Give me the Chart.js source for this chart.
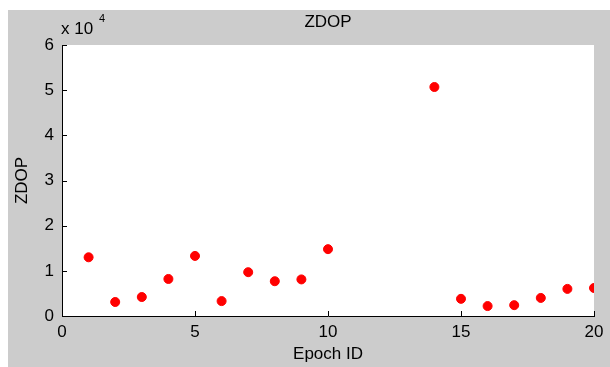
<!DOCTYPE html>
<html>
<head>
<meta charset="utf-8">
<script src="https://cdn.jsdelivr.net/npm/chart.js@4.4.0/dist/chart.umd.min.js"></script>
<style>
  body { margin: 0; background: #fff; }
  #wrap { position: absolute; left: 8px; top: 10px; width: 602px; height: 357px; background: #cccccc; }
</style>
</head>
<body>
<div id="wrap"><canvas id="zdopChart" width="602" height="357"></canvas></div>
<script>
// epoch ids and ZDOP values (epochs 11-13 have no point)
const epochs = [1, 2, 3, 4, 5, 6, 7, 8, 9, 10, 14, 15, 16, 17, 18, 19, 20];
const zdop = [13000, 3100, 4200, 8200, 13300, 3300, 9700, 7700, 8100, 14800, 50700, 3800, 2200, 2400, 4000, 6000, 6200];
const xTicks = [0, 5, 10, 15, 20];
const yTicks = [0, 10000, 20000, 30000, 40000, 50000, 60000];

const FONT = "'Liberation Sans', Arial, sans-serif";

// white plot box, inward tick marks, title and the "x 10^4" label
const matlabAxes = {
  id: "matlabAxes",
  beforeDraw(chart) {
    const { ctx, chartArea } = chart;
    ctx.save();
    ctx.fillStyle = "#ffffff";
    ctx.fillRect(chartArea.left, chartArea.top, chartArea.right - chartArea.left, chartArea.bottom - chartArea.top);
    ctx.restore();
  },
  afterDraw(chart) {
    const { ctx, chartArea, scales } = chart;
    ctx.save();
    ctx.strokeStyle = "#000";
    ctx.lineWidth = 1;
    ctx.beginPath();
    xTicks.forEach((t) => {
      const px = Math.round(scales.x.getPixelForValue(t)) + 0.5;
      ctx.moveTo(px, chartArea.bottom);
      ctx.lineTo(px, chartArea.bottom - 5);
    });
    yTicks.forEach((t) => {
      const py = Math.round(scales.y.getPixelForValue(t)) + 0.5;
      ctx.moveTo(chartArea.left, py);
      ctx.lineTo(chartArea.left + 5, py);
    });
    ctx.stroke();

    ctx.fillStyle = "#000";
    ctx.font = "17px " + FONT;
    ctx.textAlign = "center";
    ctx.textBaseline = "middle";
    ctx.fillText("ZDOP", (chartArea.left + chartArea.right) / 2, 12);

    ctx.textAlign = "left";
    ctx.fillText("x 10", chartArea.left - 1, 19);
    ctx.font = "11px " + FONT;
    ctx.fillText("4", chartArea.left + 37, 9);
    ctx.restore();
  },
};

new Chart(document.getElementById("zdopChart"), {
  type: "scatter",
  data: {
    datasets: [
      {
        label: "ZDOP",
        data: epochs.map((e, i) => ({ x: e, y: zdop[i] })),
        backgroundColor: "#ff0000",
        borderColor: "#ff0000",
        pointRadius: 4.5,
        pointHoverRadius: 4.5,
      },
    ],
  },
  options: {
    responsive: false,
    animation: false,
    layout: { padding: { top: 35, right: 16, left: 0, bottom: 0 } },
    plugins: {
      legend: { display: false },
      tooltip: { enabled: false },
    },
    scales: {
      x: {
        type: "linear",
        min: 0,
        max: 20,
        afterFit: (scale) => { scale.height = 51; },
        afterBuildTicks: (scale) => { scale.ticks = xTicks.map((v) => ({ value: v })); },
        grid: { display: false, drawTicks: false },
        border: { display: true, color: "#000", width: 1 },
        ticks: { color: "#000", font: { family: FONT, size: 17 }, padding: 6, maxRotation: 0 },
        title: { display: true, text: "Epoch ID", color: "#000", font: { family: FONT, size: 17 }, padding: { top: 0, bottom: 2 } },
      },
      y: {
        min: 0,
        max: 60000,
        afterFit: (scale) => { scale.width = 54; },
        afterBuildTicks: (scale) => { scale.ticks = yTicks.map((v) => ({ value: v })); },
        grid: { display: false, drawTicks: false },
        border: { display: true, color: "#000", width: 1 },
        ticks: { color: "#000", font: { family: FONT, size: 17 }, padding: 8, callback: (v) => v / 10000 },
        title: { display: true, text: "ZDOP", color: "#000", font: { family: FONT, size: 17 }, padding: { top: 4, bottom: 0 } },
      },
    },
  },
  plugins: [matlabAxes],
});
</script>
</body>
</html>
